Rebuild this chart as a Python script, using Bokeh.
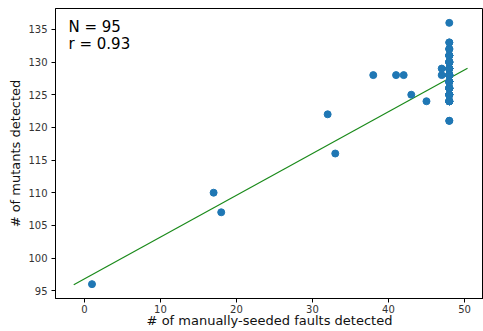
import numpy as np
from bokeh.plotting import figure
from bokeh.models import Label, FixedTicker, Range1d
from bokeh.embed import file_html
from bokeh.resources import INLINE

# scattered points (x = manually-seeded faults detected, y = mutants detected)
x_other = [1, 17, 18, 32, 33, 38, 41, 42, 43, 45, 47, 47]
y_other = [96, 110, 107, 122, 116, 128, 128, 128, 125, 124, 128, 129]

# the dense column at x = 48
col48_values = [121, 124, 125, 126, 127, 128, 129, 130, 131, 132, 133, 136]
col48_counts = [2, 8, 9, 10, 12, 12, 10, 8, 6, 3, 2, 1]

r_value = 0.93
fit_slope = 0.64
fit_intercept = 96.8
fit_x = [-1.4, 50.4]

x_ticks = [0, 10, 20, 30, 40, 50]
y_ticks = [95, 100, 105, 110, 115, 120, 125, 130, 135]

xs = x_other + [48] * sum(col48_counts)
ys = y_other + list(np.repeat(col48_values, col48_counts))
fit_y = [fit_intercept + fit_slope * v for v in fit_x]

FONT = "DejaVu Sans"
W, H = 483, 331
FRAME_H = H - 8 - 33

p = figure(width=W, height=H, output_backend="svg", toolbar_location=None,
           x_range=Range1d(-3.8, 52.5), y_range=Range1d(93.8, 138.2),
           min_border_left=55, min_border_right=0, min_border_top=8, min_border_bottom=33)
p.xgrid.visible = False
p.ygrid.visible = False
p.outline_line_color = "black"
p.outline_line_width = 1
p.background_fill_color = "white"

p.line(fit_x, fit_y, line_color="#1a8a1a", line_width=1.2)
p.scatter(xs, ys, size=7, fill_color="#1f77b4", line_color="#1f77b4")

for ax in (p.xaxis[0], p.yaxis[0]):
    ax.axis_line_color = "black"
    ax.major_tick_line_color = "black"
    ax.minor_tick_line_color = None
    ax.major_tick_out = 4
    ax.major_tick_in = 0
    ax.major_label_text_font = FONT
    ax.major_label_text_font_size = "10px"
    ax.major_label_text_color = "#333333"
    ax.axis_label_text_font = FONT
    ax.axis_label_text_font_size = "13px"
    ax.axis_label_text_font_style = "normal"
    ax.axis_label_text_color = "#111111"
    ax.major_label_standoff = 4
    ax.axis_label_standoff = 2

p.xaxis[0].ticker = FixedTicker(ticks=x_ticks)
p.yaxis[0].ticker = FixedTicker(ticks=y_ticks)
p.xaxis[0].axis_label_standoff = -3
p.xaxis[0].major_label_standoff = 2
p.xaxis.axis_label = "# of manually-seeded faults detected"
p.yaxis.axis_label = "# of mutants detected"

p.add_layout(Label(x=13, y=FRAME_H - 9.5, x_units="screen", y_units="screen",
                   text=f"N = {len(xs)}", text_font=FONT,
                   text_font_size="15px", text_baseline="top", text_color="black"))
p.add_layout(Label(x=13, y=FRAME_H - 26, x_units="screen", y_units="screen",
                   text=f"r = {r_value:.2f}", text_font=FONT,
                   text_font_size="15px", text_baseline="top", text_color="black"))

open("out.html", "w").write(file_html(p, INLINE))
